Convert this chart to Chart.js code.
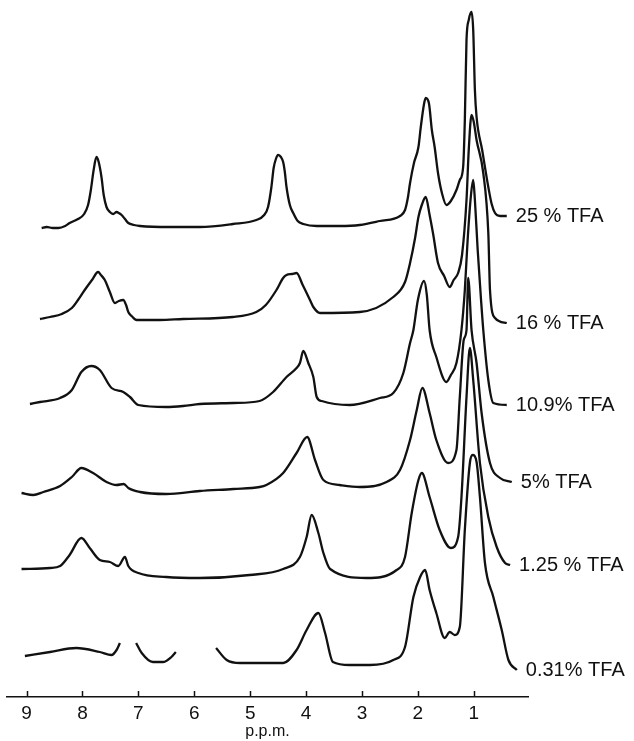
<!DOCTYPE html>
<html>
<head>
<meta charset="utf-8">
<script src="https://cdn.jsdelivr.net/npm/chart.js@4.4.1/dist/chart.umd.min.js"></script>
<style>
  html, body { margin: 0; padding: 0; background: #fff; }
  #wrap { width: 634px; height: 741px; }
</style>
</head>
<body>
<div id="wrap"><canvas id="espectros" width="634" height="741"></canvas></div>
<script>
// desplazamiento químico (ppm) e intensidad apilada de cada espectro
const ppm25 = [8.73, 8.64, 8.53, 8.43, 8.31, 8.23, 8.08, 7.97, 7.90, 7.85, 7.80, 7.75, 7.71, 7.66, 7.62, 7.57, 7.51, 7.45, 7.39, 7.35, 7.30, 7.24, 7.18, 7.08, 6.97, 6.44, 5.90, 5.31, 4.89, 4.75, 4.68, 4.62, 4.58, 4.54, 4.50, 4.45, 4.41, 4.38, 4.35, 4.29, 4.23, 4.15, 4.05, 3.81, 3.40, 3.04, 2.68, 2.32, 2.23, 2.18, 2.14, 2.07, 1.99, 1.95, 1.89, 1.86, 1.80, 1.75, 1.70, 1.64, 1.57, 1.49, 1.41, 1.31, 1.25, 1.19, 1.16, 1.13, 1.09, 1.04, 1.01, 0.98, 0.95, 0.85, 0.74, 0.68, 0.62, 0.53, 0.41];
const int25 = [469, 470, 469, 469, 471, 474, 478, 483, 492, 507, 527, 540, 535, 520, 502, 490, 485, 483, 485, 484, 482, 478, 474, 472, 471, 470, 470, 473, 477, 482, 490, 510, 529, 538, 542, 540, 535, 525, 510, 492, 484, 476, 473, 471, 471, 472, 476, 481, 487, 499, 514, 534, 550, 569, 593, 599, 593, 567, 550, 524, 504, 492, 496, 507, 517, 530, 577, 657, 677, 685, 667, 607, 580, 547, 510, 493, 484, 481, 481];

const ppm16 = [8.76, 8.58, 8.37, 8.19, 8.08, 7.96, 7.83, 7.72, 7.67, 7.60, 7.51, 7.42, 7.35, 7.27, 7.22, 7.18, 7.12, 7.03, 6.62, 6.20, 5.31, 4.89, 4.72, 4.53, 4.41, 4.35, 4.25, 4.17, 4.06, 3.93, 3.87, 3.75, 3.04, 2.44, 2.23, 2.14, 2.05, 1.99, 1.93, 1.86, 1.79, 1.73, 1.64, 1.53, 1.43, 1.36, 1.28, 1.21, 1.13, 1.09, 1.04, 1.00, 0.95, 0.83, 0.74, 0.71, 0.62, 0.41];
const int16 = [378, 380, 383, 389, 397, 407, 417, 425, 422, 417, 405, 394, 396, 397, 392, 385, 381, 377, 377, 378, 380, 385, 392, 407, 419, 422, 423, 424, 412, 397, 390, 384, 385, 400, 415, 434, 459, 480, 492, 500, 482, 464, 434, 421, 410, 417, 424, 442, 497, 547, 582, 575, 557, 524, 464, 407, 379, 374];

const ppm109 = [8.94, 8.76, 8.40, 8.19, 8.02, 7.84, 7.69, 7.48, 7.27, 7.15, 7.00, 6.50, 6.20, 5.90, 5.30, 4.83, 4.59, 4.35, 4.17, 4.11, 4.05, 3.96, 3.87, 3.81, 3.72, 3.22, 2.68, 2.44, 2.26, 2.14, 2.08, 2.00, 1.89, 1.84, 1.79, 1.67, 1.49, 1.41, 1.31, 1.22, 1.16, 1.11, 1.05, 1.01, 0.98, 0.93, 0.87, 0.83, 0.74, 0.65, 0.41];
const int109 = [293, 295, 299, 307, 325, 331, 327, 309, 305, 300, 292, 290, 291, 293, 294, 296, 305, 320, 329, 334, 346, 334, 320, 300, 296, 292, 299, 304, 324, 354, 367, 397, 416, 402, 367, 340, 315, 322, 334, 367, 407, 457, 502, 517, 497, 447, 397, 367, 317, 294, 292];

const ppm5 = [9.09, 8.88, 8.70, 8.40, 8.19, 8.02, 7.81, 7.57, 7.39, 7.26, 7.18, 6.97, 6.50, 5.90, 5.30, 4.83, 4.71, 4.41, 4.17, 3.98, 3.84, 3.69, 3.40, 3.04, 2.56, 2.32, 2.14, 2.02, 1.92, 1.79, 1.67, 1.46, 1.31, 1.25, 1.18, 1.13, 1.10, 1.04, 0.95, 0.86, 0.71, 0.53, 0.32];
const int5 = [204, 202, 205, 211, 220, 229, 224, 215, 212, 213, 209, 205, 203, 206, 208, 210, 212, 224, 244, 260, 237, 217, 212, 210, 215, 227, 257, 287, 309, 284, 257, 234, 247, 300, 357, 367, 419, 367, 334, 284, 234, 219, 215];

const ppm125 = [9.09, 8.58, 8.40, 8.23, 8.02, 7.87, 7.69, 7.51, 7.36, 7.24, 7.18, 7.00, 6.50, 5.90, 5.01, 4.41, 4.11, 3.99, 3.90, 3.78, 3.69, 3.57, 2.92, 2.38, 2.23, 2.11, 1.99, 1.93, 1.79, 1.61, 1.41, 1.28, 1.22, 1.13, 1.07, 1.01, 0.89, 0.74, 0.59, 0.44, 0.35];
const int125 = [128, 129, 131, 142, 159, 149, 137, 135, 131, 140, 131, 124, 120, 119, 122, 128, 140, 160, 182, 164, 144, 128, 119, 127, 140, 184, 217, 224, 200, 167, 149, 160, 200, 300, 349, 317, 234, 180, 150, 134, 132];

// los null son los huecos del trazado original
const ppm031 = [9.03, 8.58, 8.11, 7.69, 7.48, 7.39, 7.33, 7.20, 7.04, 6.94, 6.74, 6.56, 6.41, 6.33, 6.00, 5.61, 5.42, 5.18, 4.41, 4.17, 3.99, 3.78, 3.66, 3.52, 3.22, 2.86, 2.44, 2.23, 2.08, 1.96, 1.87, 1.79, 1.67, 1.52, 1.43, 1.34, 1.25, 1.16, 1.07, 1.02, 0.95, 0.89, 0.80, 0.65, 0.50, 0.38, 0.23];
const int031 = [41, 45, 49, 45, 42, 47, 54, null, 54, 44, 35, 35, 40, 45, null, 49, 37, 34, 34, 47, 67, 84, 64, 35, 32, 32, 37, 50, 100, 120, 127, 107, 84, 59, 65, 62, 70, 167, 234, 242, 235, 200, 134, 100, 67, 37, 27];

const etiquetas = ["25 % TFA", "16 % TFA", "10.9% TFA", "5% TFA", "1.25 % TFA", "0.31% TFA"];
const tickValues = [9, 8, 7, 6, 5, 4, 3, 2, 1];

const series = [
    [ppm25, int25], [ppm16, int16], [ppm109, int109],
    [ppm5, int5], [ppm125, int125], [ppm031, int031]
];

function puntos(xs, ys) {
    return xs.map((x, i) => ({ x: x, y: ys[i] }));
}

const datasets = series.map((s, i) => ({
    label: etiquetas[i],
    data: puntos(s[0], s[1]),
    borderColor: '#111',
    borderWidth: 2.3,
    pointRadius: 0,
    fill: false,
    spanGaps: false,
    cubicInterpolationMode: 'monotone'
}));

// marcas del eje hacia arriba y etiquetas al final de cada trazo
const extras = {
    id: 'extras',
    afterDatasetsDraw(chart) {
        const ctx = chart.ctx;
        const xs = chart.scales.x;
        const base = chart.chartArea.bottom;
        ctx.save();
        ctx.strokeStyle = '#111';
        ctx.lineWidth = 1.5;
        tickValues.forEach(v => {
            const px = Math.round(xs.getPixelForValue(v)) + 0.5;
            ctx.beginPath();
            ctx.moveTo(px, base);
            ctx.lineTo(px, base - 6);
            ctx.stroke();
        });
        ctx.fillStyle = '#111';
        ctx.font = '20px "Liberation Sans", Arial, sans-serif';
        ctx.textBaseline = 'middle';
        chart.data.datasets.forEach((ds, i) => {
            const pts = chart.getDatasetMeta(i).data;
            const last = pts[pts.length - 1];
            ctx.fillText(ds.label, last.x + 9, last.y);
        });
        ctx.restore();
    }
};

const ctx = document.getElementById('espectros').getContext('2d');
new Chart(ctx, {
    type: 'line',
    data: { datasets: datasets },
    plugins: [extras],
    options: {
        responsive: false,
        animation: false,
        devicePixelRatio: 1,
        layout: { padding: { left: 7, right: 106, top: 5, bottom: 0 } },
        plugins: { legend: { display: false }, tooltip: { enabled: false } },
        scales: {
            x: {
                type: 'linear',
                reverse: true,
                min: 0.03,
                max: 9.35,
                grid: { display: false, drawTicks: false },
                border: { display: true, color: '#111', width: 1.5 },
                afterBuildTicks: (scale) => { scale.ticks = tickValues.map(v => ({ value: v })); },
                afterFit: (scale) => { scale.height = 44; },
                ticks: {
                    color: '#111',
                    padding: 5,
                    autoSkip: false,
                    maxRotation: 0,
                    font: { family: '"Liberation Sans", Arial, sans-serif', size: 19 }
                },
                title: {
                    display: true,
                    text: 'p.p.m.',
                    color: '#111',
                    padding: { top: 0, bottom: 0 },
                    font: { family: '"Liberation Sans", Arial, sans-serif', size: 16 }
                }
            },
            y: { display: false, min: 0, max: 692 }
        }
    }
});
</script>
</body>
</html>
